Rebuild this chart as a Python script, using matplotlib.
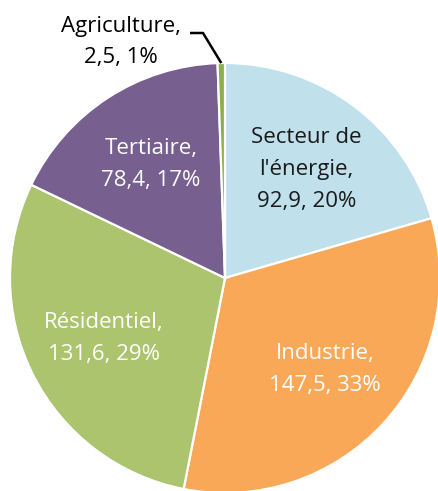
import numpy as np
import matplotlib.pyplot as plt

# Consommation d'énergie par secteur
sectors = ["Secteur de\nl'énergie", "Industrie", "Résidentiel", "Tertiaire", "Agriculture"]
values = [92.9, 147.5, 131.6, 78.4, 2.5]
value_labels = ["92,9", "147,5", "131,6", "78,4", "2,5"]
percent_labels = ["20%", "33%", "29%", "17%", "1%"]
colors = ["#C0E1EC", "#F9A857", "#ABC46D", "#775F90", "#8DAE4F"]
text_colors = ["#1A1A1A", "white", "white", "white", "black"]

W, H = 438, 491
fig = plt.figure(figsize=(W / 100, H / 100), dpi=100)
ax = fig.add_axes([0, 0, 1, 1])

cx, cy, R = 225, H - 278, 215
wedges, _ = ax.pie(values, colors=colors, startangle=90, counterclock=False,
                   center=(cx, cy), radius=R, frame=True,
                   wedgeprops=dict(edgecolor="white", linewidth=1.6))

plt.rcParams['font.family'] = ['Open Sans', 'DejaVu Sans']
fs = 16
ls = 1.68
for i, w in enumerate(wedges[:-1]):
    mid = np.deg2rad((w.theta1 + w.theta2) / 2)
    d = 0.63 * R
    ax.text(cx + d * np.cos(mid), cy + d * np.sin(mid),
            f"{sectors[i]},\n{value_labels[i]}, {percent_labels[i]}",
            ha="center", va="center", color=text_colors[i], fontsize=fs,
            linespacing=ls)

# Agriculture label outside with leader line
w = wedges[-1]
mid = np.deg2rad((w.theta1 + w.theta2) / 2)
px, py = cx + R * np.cos(mid), cy + R * np.sin(mid)
ax.plot([190, 203, px], [H - 33, H - 33, py], color="black", lw=1.8,
        solid_capstyle="butt")
ax.text(121, H - 42, f"{sectors[-1]},\n{value_labels[-1]}, {percent_labels[-1]}",
        ha="center", va="center", color=text_colors[-1], fontsize=fs,
        linespacing=ls)

ax.set_xlim(0, W)
ax.set_ylim(0, H)
ax.set_aspect("equal")
ax.axis("off")

fig.savefig("out.png", dpi=100)
